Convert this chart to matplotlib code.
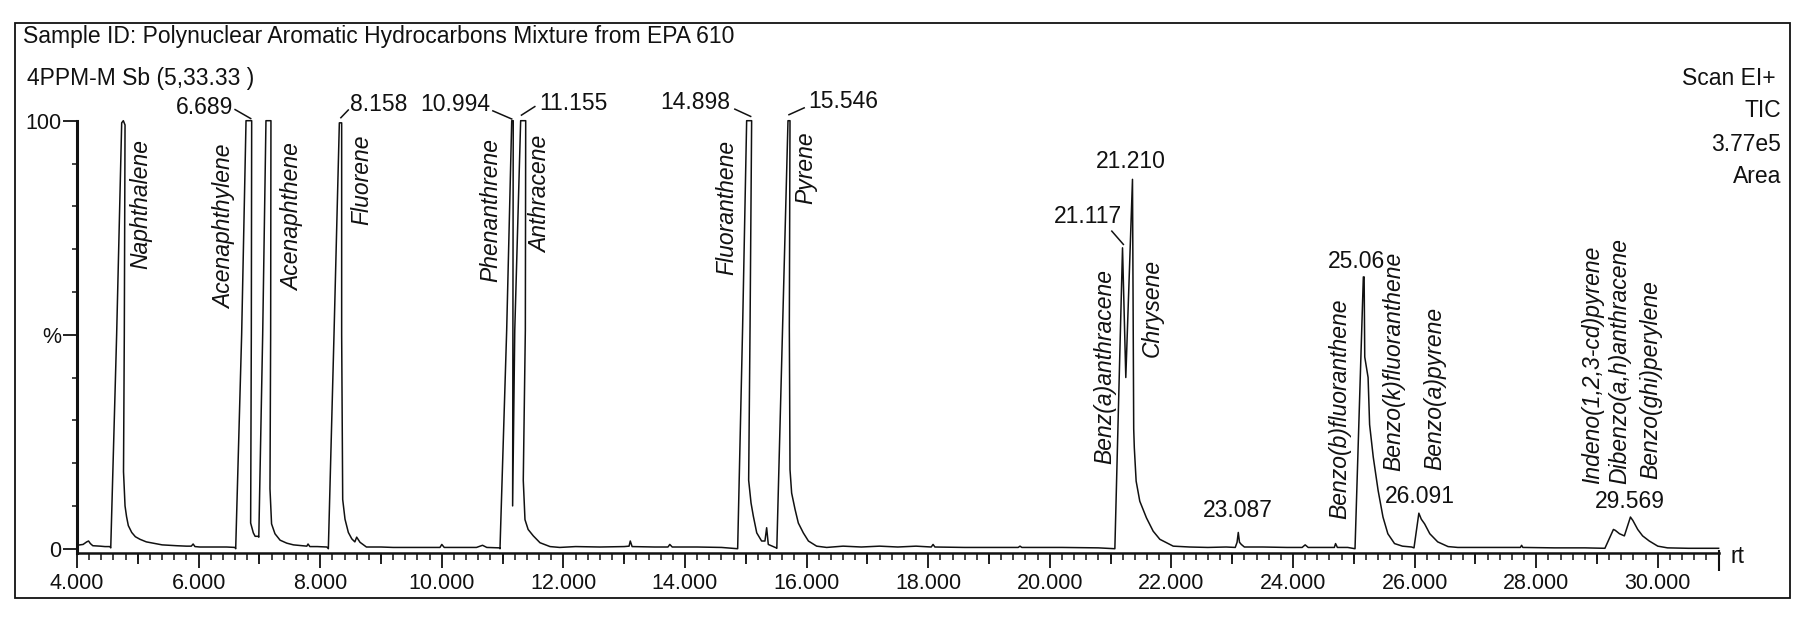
#!/usr/bin/env python3
"""
TIC chromatogram of the EPA 610 PAH mixture (4 ppm), redrawn from a scanned
MassLynx printout. Values are read off the scan; the scan's slight tilt is
straightened out.
"""
import numpy as np
import matplotlib
matplotlib.use("Agg")
import matplotlib.pyplot as plt
from matplotlib.patches import Rectangle
from matplotlib.transforms import blended_transform_factory

plt.rcParams["font.family"] = ["Liberation Sans", "DejaVu Sans"]

# ---------------------------------------------------------------------------
# DATA: trace, retention time (min) vs relative intensity (%)
# ---------------------------------------------------------------------------
START_RT = [4.00, 4.05, 4.10, 4.16, 4.19, 4.22, 4.26, 4.38, 4.46, 4.54]
START_PCT = [0.8, 0.9, 1.0, 1.6, 1.8, 1.2, 0.7, 0.6, 0.5, 0.5]

NAPH_RT = [4.555, 4.652, 4.735, 4.762, 4.79, 4.778, 4.765, 4.79, 4.815, 4.844,
           4.90, 4.96, 5.036, 5.14, 5.255, 5.40, 5.64, 5.80, 5.88, 5.91, 5.94,
           6.02, 6.20, 6.46, 6.60]
NAPH_PCT = [0.2, 50, 99.5, 100, 99, 50, 18, 10, 7.5, 5.4,
            3.8, 2.8, 2.2, 1.6, 1.3, 0.9, 0.7, 0.6, 0.6, 1.1, 0.5,
            0.4, 0.4, 0.4, 0.3]

ACE_RT = [6.61, 6.708, 6.78, 6.873, 6.867, 6.856, 6.90, 6.93, 6.98, 6.99,
          7.054, 7.108, 7.19, 7.185, 7.174, 7.20, 7.256, 7.34, 7.45, 7.56,
          7.70, 7.78, 7.80, 7.83, 7.95, 8.11]
ACE_PCT = [0, 50, 100, 100, 50, 6, 3.7, 2.9, 2.9, 2.7,
           50, 100, 100, 50, 14, 5.8, 3.5, 2.0, 1.3, 0.9,
           0.7, 0.6, 1.1, 0.5, 0.5, 0.4]

FLU_RT = [8.134, 8.227, 8.315, 8.353, 8.353, 8.37, 8.408, 8.463, 8.52, 8.57,
          8.60, 8.655, 8.76, 9.00, 9.20, 9.60, 9.97, 10.00, 10.04, 10.30,
          10.57, 10.67, 10.74, 10.95]
FLU_PCT = [0, 50, 99.5, 99.5, 50, 11.5, 6.9, 3.8, 2.3, 1.6,
           2.7, 1.5, 0.4, 0.4, 0.3, 0.3, 0.3, 1.0, 0.3, 0.3,
           0.3, 0.8, 0.3, 0.2]

PHEN_RT = [10.957, 11.067, 11.15, 11.175, 11.17, 11.165, 11.20, 11.297, 11.38,
           11.374, 11.34, 11.368, 11.42, 11.505, 11.615, 11.78, 11.94]
PHEN_PCT = [0, 51, 100, 100, 51, 10, 51, 100, 100,
            51, 16, 6.8, 4.5, 3.0, 1.4, 0.5, 0.3]

MID_RT = [12.2, 12.6, 13.0, 13.08, 13.10, 13.13, 13.5, 13.72, 13.75, 13.79,
          14.2, 14.6, 14.866]
MID_PCT = [0.5, 0.4, 0.5, 0.6, 1.8, 0.5, 0.4, 0.4, 1.0, 0.4,
           0.4, 0.3, 0.0]

FLA_RT = [14.948, 15.014, 15.096, 15.07, 15.047, 15.086, 15.124, 15.18, 15.26,
          15.315, 15.343, 15.37, 15.50, 15.51, 15.606, 15.694, 15.727, 15.716,
          15.727, 15.754, 15.81, 15.864, 15.946, 16.03, 16.165, 16.33, 16.6,
          16.9, 17.2, 17.5, 17.8, 18.05, 18.08, 18.11, 18.6, 19.1, 19.48,
          19.51, 19.54, 20.2, 20.8, 21.07]
FLA_PCT = [52, 100, 100, 52, 16, 10.7, 7.6, 3.7, 1.8,
           1.8, 4.9, 1.0, 0.2, 0.1, 52, 100, 100, 52,
           18.5, 13, 9.2, 6.0, 3.7, 1.8, 0.6, 0.3, 0.6,
           0.4, 0.6, 0.4, 0.6, 0.4, 1.0, 0.4, 0.3, 0.3, 0.3,
           0.6, 0.3, 0.3, 0.2, 0.0]

CHRY_RT = [21.196, 21.25, 21.36, 21.37, 21.38, 21.39, 21.42, 21.48, 21.59,
           21.70, 21.81, 22.03, 22.3, 22.6, 22.9, 23.05]
CHRY_PCT = [70.3, 40, 86.3, 54.7, 28, 23.6, 15.8, 11.1, 7.2,
            4.1, 2.2, 0.6, 0.4, 0.3, 0.4, 0.3]

MINOR_RT = [23.08, 23.10, 23.12, 23.15, 23.2, 23.5, 23.9, 24.15, 24.2, 24.25,
            24.5, 24.68, 24.7, 24.73, 24.9, 25.02]
MINOR_PCT = [1.5, 3.8, 1.5, 1.0, 0.4, 0.4, 0.3, 0.3, 0.9, 0.3,
             0.3, 0.3, 1.2, 0.3, 0.3, 0.0]

BENZO_RT = [25.157, 25.17, 25.18, 25.235, 25.26, 25.32, 25.40, 25.48, 25.56,
            25.67, 25.80, 25.95, 25.99, 26.07, 26.11, 26.165, 26.25, 26.38,
            26.55, 26.71, 27.2, 27.74, 27.76, 27.78, 28.3, 28.8, 29.13]
BENZO_PCT = [63.5, 63.5, 44.8, 40, 29, 21.4, 13.6, 7.4, 3.5,
             1.2, 0.6, 0.4, 0.2, 8.3, 6.9, 5.8, 3.5, 1.6,
             0.5, 0.3, 0.3, 0.3, 0.8, 0.3, 0.2, 0.2, 0.1]

LATE_RT = [29.27, 29.30, 29.37, 29.45, 29.55, 29.59, 29.67, 29.75, 29.86,
           30.0, 30.16, 30.5, 31.0]
LATE_PCT = [4.5, 4.3, 3.5, 3.0, 7.4, 6.6, 4.5, 3.0, 1.8,
            0.6, 0.2, 0.1, 0.1]

# peak retention-time labels and compound names
PEAK_LABELS = ["6.689", "8.158", "10.994", "11.155", "14.898", "15.546",
               "21.117", "21.210", "23.087", "25.06", "26.091", "29.569"]
COMPOUNDS = ["Naphthalene", "Acenaphthylene", "Acenaphthene", "Fluorene",
             "Phenanthrene", "Anthracene", "Fluoranthene", "Pyrene",
             "Benz(a)anthracene", "Chrysene", "Benzo(b)fluoranthene",
             "Benzo(k)fluoranthene", "Benzo(a)pyrene", "Indeno(1,2,3-cd)pyrene",
             "Dibenzo(a,h)anthracene", "Benzo(ghi)perylene"]

X_MAJOR = np.arange(4, 31, 2)
Y_TICKS = [0, 50, 100]
Y_TICK_LABELS = ["0", "%", "100"]
INFO_LINES = ["Scan EI+", "TIC", "3.77e5", "Area"]

# ---------------------------------------------------------------------------
# LAYOUT (positions in data units of the plot, px for the page furniture)
# ---------------------------------------------------------------------------
LABEL_POS = [(6.566, 103.1, "right"), (8.49, 103.9, "left"),
             (10.79, 103.9, "right"), (11.60, 104.1, "left"),
             (14.74, 104.2, "right"), (16.02, 104.6, "left"),
             (21.19, 77.6, "right"), (21.34, 90.5, "center"),
             (23.10, 8.9, "center"), (24.58, 67.1, "left"),
             (26.09, 12.2, "center"), (29.54, 11.1, "center")]
LEADERS = [((6.60, 102.6), (6.857, 100.5)), ((8.34, 100.7), (8.462, 102.5)),
           ((10.84, 102.3), (11.15, 100.4)), ((11.31, 101.3), (11.53, 103.3)),
           ((14.82, 102.7), (15.08, 101.0)), ((15.71, 101.4), (15.96, 103.0)),
           ((21.02, 74.2), (21.21, 71.1))]
NAME_POS = [(5.05, 65.4), (6.42, 55.9), (7.54, 60.2), (8.69, 75.7),
            (10.81, 62.2), (11.63, 69.0), (14.69, 63.9), (15.99, 80.6),
            (20.91, 19.7), (21.68, 44.7), (24.77, 7.0), (25.66, 18.2),
            (26.34, 18.4), (28.92, 15.1), (29.38, 15.2), (29.89, 16.3)]

W, H = 1796, 620
FS = 16.5
INK = "#111111"


def main():
    rt = np.concatenate([START_RT, NAPH_RT, ACE_RT, FLU_RT, PHEN_RT, MID_RT,
                         FLA_RT, CHRY_RT, MINOR_RT, BENZO_RT, LATE_RT])
    pct = np.concatenate([START_PCT, NAPH_PCT, ACE_PCT, FLU_PCT, PHEN_PCT,
                          MID_PCT, FLA_PCT, CHRY_PCT, MINOR_PCT, BENZO_PCT,
                          LATE_PCT])

    fig = plt.figure(figsize=(W / 100, H / 100), dpi=100)
    fig.patch.set_facecolor("white")

    ax_l, ax_r, ax_b, ax_t = 77, 1718.6, 553, 120.7
    ax = fig.add_axes([ax_l / W, 1 - ax_b / H, (ax_r - ax_l) / W, (ax_b - ax_t) / H])
    ax.set_xlim(4.0, 31.0)
    ax.set_ylim(-1, 100)
    ax.patch.set_alpha(0)

    ax.plot(rt, pct, color=INK, lw=1.1, clip_on=False, zorder=3)

    # axes look: MassLynx style
    for s in ("top", "right"):
        ax.spines[s].set_visible(False)
    ax.spines["left"].set_bounds(-1, 100)
    ax.spines["left"].set_linewidth(2.2)
    ax.spines["bottom"].set_linewidth(1.8)
    ax.spines["left"].set_color(INK)
    ax.spines["bottom"].set_color(INK)

    ax.set_xticks(X_MAJOR)
    ax.set_xticklabels([f"{v:.3f}" for v in X_MAJOR], fontsize=15.5, color=INK)
    ax.set_xticks(np.arange(4.0, 31.01, 0.2), minor=True)
    ax.tick_params(axis="x", which="major", length=10.8, width=1.3, pad=3.6,
                   direction="out", colors=INK)
    ax.tick_params(axis="x", which="minor", length=5.0, width=1.1,
                   direction="out", colors=INK)

    ax.set_yticks(Y_TICKS)
    ax.set_yticklabels(Y_TICK_LABELS, fontsize=15.5, color=INK)
    ax.set_yticks([10, 20, 30, 40, 60, 70, 80, 90], minor=True)
    ax.tick_params(axis="y", which="major", length=10, width=1.3, pad=1,
                   direction="out", colors=INK)
    ax.tick_params(axis="y", which="minor", length=3.6, width=1.1,
                   direction="out", colors=INK)

    # odd-minute ticks (medium) and the closing tick at the axis end
    bt = blended_transform_factory(ax.transData, ax.transAxes)
    px = 1 / (ax_b - ax_t)
    for m in range(5, 31, 2):
        ax.plot([m, m], [0, -11 * px], transform=bt, color=INK, lw=1.3,
                clip_on=False, solid_capstyle="butt")
    ax.plot([31.0, 31.0], [3 * px, -18 * px], transform=bt, color=INK, lw=1.5,
            clip_on=False, solid_capstyle="butt")

    # retention time labels + leader lines
    for txt, (x, y, ha) in zip(PEAK_LABELS, LABEL_POS):
        ax.text(x, y, txt, ha=ha, va="center", fontsize=FS, color=INK,
                clip_on=False)
    for (x0, y0), (x1, y1) in LEADERS:
        ax.plot([x0, x1], [y0, y1], color=INK, lw=1.1, clip_on=False)

    # compound names
    for name, (x, y) in zip(COMPOUNDS, NAME_POS):
        ax.text(x, y, name, rotation=90, ha="center", va="bottom",
                fontsize=FS, style="italic", color=INK, clip_on=False)

    # page furniture
    fig.text(23 / W, 1 - 43 / H,
             "Sample ID: Polynuclear Aromatic Hydrocarbons Mixture from EPA 610",
             fontsize=FS, color=INK, ha="left", va="baseline")
    fig.text(27 / W, 1 - 84.7 / H, "4PPM-M Sb (5,33.33 )",
             fontsize=FS, color=INK, ha="left", va="baseline")
    info_y = [84.6, 116.6, 150.6, 183.3]
    info_x = [1776, 1781, 1781, 1781]
    for txt, xx, yy in zip(INFO_LINES, info_x, info_y):
        fig.text(xx / W, 1 - yy / H, txt, fontsize=FS, color=INK,
                 ha="right", va="baseline")
    fig.text(1730 / W, 1 - 556.5 / H, "rt", fontsize=FS, color=INK,
             ha="left", va="center")

    fig.add_artist(Rectangle((15 / W, 1 - 598 / H), (1790 - 15) / W, (598 - 23) / H,
                             transform=fig.transFigure, fill=False,
                             lw=1.3, ec=INK))

    fig.savefig("out.png", dpi=100, facecolor="white")
    plt.close(fig)


if __name__ == "__main__":
    main()
